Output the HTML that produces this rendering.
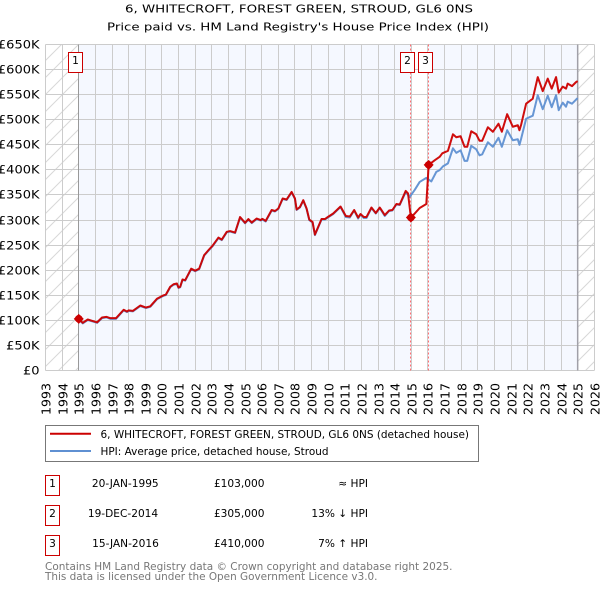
<!DOCTYPE html>
<html>
<head>
<meta charset="utf-8">
<style>
html,body{margin:0;padding:0;background:#fff;}
body{width:600px;height:590px;overflow:hidden;position:relative;}
svg{position:absolute;left:0;top:0;font-family:"DejaVu Sans","Liberation Sans",sans-serif;}
</style>
</head>
<body>
<svg id="chart" width="600" height="590" viewBox="0 0 600 590">
<defs>
<pattern id="hatch" patternUnits="userSpaceOnUse" width="17" height="17" patternTransform="translate(45 44)">
<path d="M-1 18L18 -1" stroke="#d8d8d8" stroke-width="1" fill="none"/>
<path d="M-1 1L1 -1M16 18L18 16" stroke="#d8d8d8" stroke-width="1" fill="none"/>
</pattern>
</defs>
<text x="125" y="12.7" textLength="348" lengthAdjust="spacingAndGlyphs" font-size="11" fill="#000">6, WHITECROFT, FOREST GREEN, STROUD, GL6 0NS</text>
<text x="107" y="30.7" textLength="382" lengthAdjust="spacingAndGlyphs" font-size="11" fill="#000">Price paid vs. HM Land Registry's House Price Index (HPI)</text>
<g id="plot"></g>
<g>
<rect x="45.5" y="425.5" width="433" height="36" fill="#fff" stroke="#777" stroke-width="1"/>
<line x1="50" y1="433.7" x2="91" y2="433.7" stroke="#cc0000" stroke-width="2"/>
<text x="100.5" y="438.2" textLength="368.5" lengthAdjust="spacingAndGlyphs" font-size="10.6" fill="#000">6, WHITECROFT, FOREST GREEN, STROUD, GL6 0NS (detached house)</text>
<line x1="50" y1="451" x2="91" y2="451" stroke="#5f90d2" stroke-width="2"/>
<text x="100.5" y="455" textLength="228" lengthAdjust="spacingAndGlyphs" font-size="10.6" fill="#000">HPI: Average price, detached house, Stroud</text>
</g>
<g font-size="10.6" fill="#000">
<rect x="45.5" y="475.5" width="14" height="20" fill="#fff" stroke="#cc0000"/>
<text x="52.5" y="487" text-anchor="middle">1</text>
<text x="125.3" y="487.2" text-anchor="middle">20-JAN-1995</text>
<text x="264.5" y="487.2" text-anchor="end">£103,000</text>
<text x="368" y="487.2" text-anchor="end">≈ HPI</text>
<rect x="45.5" y="505.5" width="14" height="20" fill="#fff" stroke="#cc0000"/>
<text x="52.5" y="517" text-anchor="middle">2</text>
<text x="123" y="517.2" text-anchor="middle">19-DEC-2014</text>
<text x="264.5" y="517.2" text-anchor="end">£305,000</text>
<text x="368" y="517.2" text-anchor="end">13% ↓ HPI</text>
<rect x="45.5" y="535.5" width="14" height="20" fill="#fff" stroke="#cc0000"/>
<text x="52.5" y="547" text-anchor="middle">3</text>
<text x="125.5" y="547.2" text-anchor="middle">15-JAN-2016</text>
<text x="264.5" y="547.2" text-anchor="end">£410,000</text>
<text x="368" y="547.2" text-anchor="end">7% ↑ HPI</text>
</g>
<text x="45" y="570" textLength="407.5" lengthAdjust="spacingAndGlyphs" font-size="10.6" fill="#777">Contains HM Land Registry data © Crown copyright and database right 2025.</text>
<text x="45" y="580" textLength="332.5" lengthAdjust="spacingAndGlyphs" font-size="10.6" fill="#777">This data is licensed under the Open Government Licence v3.0.</text>
</svg>
<script>
const yearTicks = [1993,1994,1995,1996,1997,1998,1999,2000,2001,2002,2003,2004,2005,2006,2007,2008,2009,2010,2011,2012,2013,2014,2015,2016,2017,2018,2019,2020,2021,2022,2023,2024,2025,2026];
const priceTicks = [0,50,100,150,200,250,300,350,400,450,500,550,600,650];
const priceTickLabels = ["£0","£50K","£100K","£150K","£200K","£250K","£300K","£350K","£400K","£450K","£500K","£550K","£600K","£650K"];
const priceDates = [1995.0,1995.24,1995.54,1995.8,1996.1,1996.4,1996.66,1996.9,1997.24,1997.7,1997.9,1998.0,1998.26,1998.7,1999.04,1999.3,1999.7,2000.1,2000.24,2000.5,2000.7,2000.9,2001.0,2001.1,2001.24,2001.4,2001.76,2002.0,2002.24,2002.54,2002.8,2003.04,2003.4,2003.6,2003.9,2004.1,2004.4,2004.7,2005.0,2005.2,2005.4,2005.7,2005.94,2006.04,2006.24,2006.6,2006.8,2007.0,2007.26,2007.5,2007.8,2008.0,2008.1,2008.3,2008.5,2008.7,2008.86,2009.06,2009.2,2009.6,2009.8,2010.0,2010.3,2010.74,2011.06,2011.3,2011.56,2011.8,2011.94,2012.14,2012.3,2012.6,2012.86,2013.1,2013.4,2013.66,2013.86,2014.1,2014.3,2014.66,2014.8,2014.97,2015.2,2015.5,2015.9,2016.04,2016.4,2016.7,2016.86,2017.2,2017.5,2017.7,2017.96,2018.2,2018.36,2018.6,2018.9,2019.1,2019.26,2019.6,2019.9,2020.24,2020.44,2020.76,2021.1,2021.4,2021.5,2021.6,2021.9,2022.3,2022.6,2022.9,2023.2,2023.44,2023.7,2023.86,2024.1,2024.3,2024.4,2024.66,2024.9,2025.0];
const priceValues = [103,95,101.7,99,96,105.7,107,104.4,104.4,121,117.6,120,119,129.6,125.6,128,143,150,151.5,167,172,173.5,165.5,167,181.5,180,203,199,203,230,240,248.6,265,261,276.5,278,275,306,294.5,302,295,303,300,302.4,298.4,320,318,323,343,341,356,343,321,326,339.6,323,301,296,271,302,302,306.6,313,327,308,307,320,305,312,306,306,325,314,325,310,319,320,332,331,358,353,305,313,324,332,410,419,426,433,438,471,465,467,446,446,477,471,458,458,485,476,492,476,511,486,489,479,490,532,542,585,557,582,562,585,554,566,562,572,567,575,577];
const hpiDates = [1995.0,1995.24,1995.54,1995.8,1996.1,1996.4,1996.66,1996.9,1997.24,1997.7,1997.9,1998.0,1998.26,1998.7,1999.04,1999.3,1999.7,2000.1,2000.24,2000.5,2000.7,2000.9,2001.0,2001.1,2001.24,2001.4,2001.76,2002.0,2002.24,2002.54,2002.8,2003.04,2003.4,2003.6,2003.9,2004.1,2004.4,2004.7,2005.0,2005.2,2005.4,2005.7,2005.94,2006.04,2006.24,2006.6,2006.8,2007.0,2007.26,2007.5,2007.8,2008.0,2008.1,2008.3,2008.5,2008.7,2008.86,2009.06,2009.2,2009.6,2009.8,2010.0,2010.3,2010.74,2011.06,2011.3,2011.56,2011.8,2011.94,2012.14,2012.3,2012.6,2012.86,2013.1,2013.4,2013.66,2013.86,2014.1,2014.3,2014.66,2014.9,2015.2,2015.5,2015.9,2016.2,2016.5,2016.7,2016.9,2017.2,2017.5,2017.7,2017.96,2018.2,2018.36,2018.6,2018.9,2019.1,2019.26,2019.6,2019.9,2020.24,2020.44,2020.76,2021.1,2021.4,2021.5,2021.6,2021.9,2022.3,2022.6,2022.9,2023.2,2023.44,2023.7,2023.86,2024.1,2024.3,2024.4,2024.66,2024.9,2025.0];
const hpiValues = [102,94,100.5,98,95,104.5,106,103,103,120,116.5,119,118,128.5,124.5,127,142,149,150.5,166,171,172.5,164.5,166,180.5,179,202,198,202,229,239,247.5,264,260,275.5,277,274,305,293.5,301,294,302,299,301,297,319,317,322,342,340,355,342,320,325,338.5,322,300,295,270,301,301,305.5,312,326,306,305,319,303,311,304,304,324,313,324,308,318,319,331,330,356,346,360,376,384,377,396,399.5,407,413,443,434,439,418,418,448,441,429,431,455,446,464,446,479,459,461,450,462,502,508,549,521,548,525,549,519,534,526,536,532,540,543];
const saleLabels = ["1","2","3"];
const saleDates = [1995.0,2014.97,2016.04];
const saleValues = [103,305,410];

const NS = "http://www.w3.org/2000/svg";
const plot = document.getElementById("plot");
const L = 45.5, R = 594.3, T = 44.5, B = 370.5;
function xScale(year){ return L + (year - 1993) * (R - L) / 33; }
function yScale(k){ return B - k * (B - T) / 650; }
function snap(v){ return Math.floor(v) + 0.5; }
function add(parent, tag, attrs){
  const el = document.createElementNS(NS, tag);
  for (const k in attrs) el.setAttribute(k, attrs[k]);
  parent.appendChild(el);
  return el;
}
const bg = add(plot, "rect", {x:L, y:T, width:R-L, height:B-T, fill:"#f5f8ff"});


const hatchLeft = add(plot, "rect", {x:L, y:T, width:xScale(1995.0)-L, height:B-T, fill:"#fff"});


const hatchLeft2 = add(plot, "rect", {x:L, y:T, width:xScale(1995.0)-L, height:B-T, fill:"url(#hatch)"});


const hatchRight = add(plot, "rect", {x:xScale(2025.0), y:T, width:R-xScale(2025.0), height:B-T, fill:"#fff"});


const hatchRight2 = add(plot, "rect", {x:xScale(2025.0), y:T, width:R-xScale(2025.0), height:B-T, fill:"url(#hatch)"});


const band = add(plot, "rect", {x:xScale(saleDates[1]), y:T, width:xScale(saleDates[2])-xScale(saleDates[1]), height:B-T, fill:"#fff"});



yearTicks.forEach(function(y){
  const x = snap(xScale(y));
  const g = add(plot, "line", {x1:x, y1:T, x2:x, y2:B, stroke:"#cccccc", "stroke-width":1});
  
  
  const t = add(plot, "text", {transform:"translate("+(x+4.8)+",415) rotate(-90)", "font-size":12.6, fill:"#000"});
  t.textContent = y;
  
  
});
priceTicks.forEach(function(p,i){
  const y = snap(yScale(p));
  const g = add(plot, "line", {x1:L, y1:y, x2:R, y2:y, stroke:"#cccccc", "stroke-width":1});
  
  
  const t = add(plot, "text", {transform:"translate(39.5,"+(y+4.2)+") scale(1.13,1)", "text-anchor":"end", "font-size":11.5, fill:"#000"});
  t.textContent = priceTickLabels[i];
  
  
});

const startLine = add(plot, "line", {x1:snap(xScale(1995.0)), y1:T, x2:snap(xScale(1995.0)), y2:B, stroke:"#999", "stroke-width":1});


const endLine = add(plot, "line", {x1:xScale(2025.0), y1:T, x2:xScale(2025.0), y2:B, stroke:"#a0a0a8", "stroke-width":1.5});



[1,2].forEach(function(i){
  const x = snap(xScale(saleDates[i]));
  const d = add(plot, "line", {x1:x, y1:T, x2:x, y2:B, stroke:"#ff7070", "stroke-width":1, "stroke-dasharray":"2 2"});
  
  
});

function linePath(dates, values){
  return dates.map(function(d,i){ return (i?"L":"M") + xScale(d).toFixed(2) + " " + yScale(values[i]).toFixed(2); }).join(" ");
}
const hpiLine = add(plot, "path", {d:linePath(hpiDates,hpiValues), fill:"none", stroke:"#5f90d2", "stroke-width":2, "stroke-linejoin":"round", opacity:0.95});


const priceLine = add(plot, "path", {d:linePath(priceDates,priceValues), fill:"none", stroke:"#cc0000", "stroke-width":2, "stroke-linejoin":"round", opacity:0.95});



saleDates.forEach(function(d,i){
  const cx = xScale(d), cy = yScale(saleValues[i]);
  const m = add(plot, "circle", {cx:cx, cy:cy, r:3.8, fill:"#cc0000"});
  
  
  const dm = add(plot, "path", {d:"M"+(cx-5)+" "+cy+"L"+cx+" "+(cy-5)+"L"+(cx+5)+" "+cy+"L"+cx+" "+(cy+5)+"Z", fill:"#cc0000"});
  
  
  const bx = Math.floor(cx - 10) + 0.5;
  const b = add(plot, "rect", {x:bx, y:52.5, width:14, height:20, fill:"#fff", stroke:"#cc0000", "stroke-width":1});
  
  
  const t = add(plot, "text", {x:bx+7, y:64, "text-anchor":"middle", "font-size":10.6, fill:"#000"});
  t.textContent = saleLabels[i];
  
  
});
</script>
</body>
</html>
